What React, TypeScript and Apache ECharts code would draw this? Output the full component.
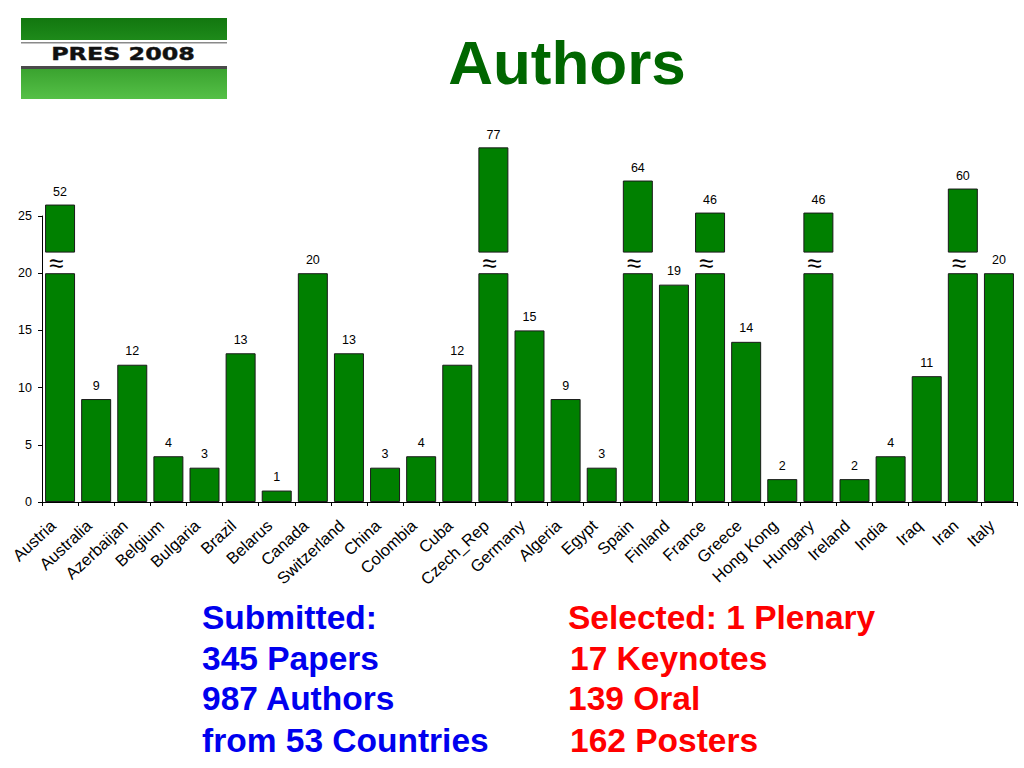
import React, { useEffect, useRef } from "react";
import * as echarts from "echarts";

const categories = [
  "Austria", "Australia", "Azerbaijan", "Belgium", "Bulgaria", "Brazil", "Belarus",
  "Canada", "Switzerland", "China", "Colombia", "Cuba", "Czech_Rep", "Germany",
  "Algeria", "Egypt", "Spain", "Finland", "France", "Greece", "Hong Kong",
  "Hungary", "Ireland", "India", "Iraq", "Iran", "Italy",
];
const authors = [52, 9, 12, 4, 3, 13, 1, 20, 13, 3, 4, 12, 77, 15, 9, 3, 64, 19, 46, 14, 2, 46, 2, 4, 11, 60, 20];
// displayed top (axis units) of the upper box for broken bars
const brokenTops: Record<string, number> = {
  Austria: 26.0,
  Czech_Rep: 31.0,
  Spain: 28.1,
  France: 25.3,
  Hungary: 25.3,
  Iran: 27.4,
};
const breakCap = 20;
const breakGap = 1.8;
const yTicks = [0, 5, 10, 15, 20, 25];
const submittedLines = ["Submitted:", "345 Papers", "987 Authors", "from 53 Countries"];
const selectedLines = ["Selected: 1 Plenary", "17 Keynotes", "139 Oral", "162 Posters"];

const FONT = "'Liberation Sans', Arial, Helvetica, sans-serif";

export default function App() {
  const ref = useRef<HTMLDivElement>(null);
  useEffect(() => {
    if (!ref.current) return;
    const chart = echarts.init(ref.current, null, { renderer: "svg" });
    const isBroken = (i: number) => brokenTops[categories[i]] !== undefined;
    const lower = authors.map((v, i) => (isBroken(i) ? breakCap : v));
    const gap = authors.map((v, i) => (isBroken(i) ? breakGap : "-"));
    const box = authors.map((v, i) =>
      isBroken(i) ? +(brokenTops[categories[i]] - breakCap - breakGap).toFixed(2) : "-"
    );
    const barStyle = { color: "#008000", borderColor: "#1a1a1a", borderWidth: 1 };
    const labelBase = { color: "#000", fontSize: 12.5, fontFamily: FONT };

    const graphic: any[] = [];
    // logo
    graphic.push({
      type: "group",
      left: 21,
      top: 18,
      children: [
        {
          type: "rect",
          shape: { x: 0, y: 0, width: 206, height: 22 },
          style: {
            fill: new echarts.graphic.LinearGradient(0, 0, 0, 1, [
              { offset: 0, color: "#12770f" },
              { offset: 1, color: "#1e8a1a" },
            ]),
          },
        },
        { type: "rect", shape: { x: 0, y: 22, width: 206, height: 27 }, style: { fill: "#ffffff" } },
        { type: "rect", shape: { x: 0, y: 24, width: 206, height: 1.5 }, style: { fill: "#8a8a8a" } },
        { type: "rect", shape: { x: 0, y: 48, width: 206, height: 3 }, style: { fill: "#4a4a4a" } },
        {
          type: "rect",
          shape: { x: 0, y: 51, width: 206, height: 30 },
          style: {
            fill: new echarts.graphic.LinearGradient(0, 0, 0, 1, [
              { offset: 0, color: "#3aa32f" },
              { offset: 1, color: "#55c047" },
            ]),
          },
        },
        {
          type: "text",
          x: 102,
          y: 36.5,
          scaleX: 1.4,
          style: {
            text: "PRES 2008",
            fill: "#111",
            stroke: "#111",
            lineWidth: 0.4,
            font: "bold 17px 'DejaVu Sans', sans-serif",
            align: "center",
            verticalAlign: "middle",
          },
        },
      ],
    });
    graphic.push({
      type: "text",
      x: 567,
      y: 62,
      style: {
        text: "Authors",
        fill: "#006600",
        font: `bold 62px ${FONT}`,
        align: "center",
        verticalAlign: "middle",
      },
    });
    const lineYs = [617, 658, 698, 740];
    submittedLines.forEach((t, i) => {
      graphic.push({
        type: "text",
        x: 202,
        y: lineYs[i],
        style: { text: t, fill: "#0000ee", font: `bold 33.5px ${FONT}`, align: "left", verticalAlign: "middle" },
      });
    });
    const selX = [568, 570, 568, 570];
    selectedLines.forEach((t, i) => {
      graphic.push({
        type: "text",
        x: selX[i],
        y: lineYs[i],
        style: { text: t, fill: "#ff0000", font: `bold 33.5px ${FONT}`, align: "left", verticalAlign: "middle" },
      });
    });

    chart.setOption({
      animation: false,
      backgroundColor: "#ffffff",
      textStyle: { fontFamily: FONT },
      grid: { left: 42, right: 7, top: 216, bottom: 266, containLabel: false },
      xAxis: {
        type: "category",
        data: categories,
        boundaryGap: true,
        axisLine: { show: true, lineStyle: { color: "#000", width: 1 } },
        axisTick: { show: true, length: 4, alignWithLabel: false, lineStyle: { color: "#000" } },
        axisLabel: {
          interval: 0,
          rotate: 43,
          color: "#000",
          fontSize: 16.5,
          fontFamily: FONT,
          margin: 14,
          padding: [0, 10, 0, 0],
        },
        splitLine: { show: false },
      },
      yAxis: {
        type: "value",
        min: yTicks[0],
        max: yTicks[yTicks.length - 1],
        interval: 5,
        axisLine: { show: true, lineStyle: { color: "#000", width: 1 } },
        axisTick: { show: true, length: 4, lineStyle: { color: "#000" } },
        axisLabel: { color: "#000", fontSize: 12.5, fontFamily: FONT, margin: 10 },
        splitLine: { show: false },
      },
      series: [
        {
          type: "bar",
          stack: "a",
          data: lower,
          barWidth: 30,
          clip: false,
          itemStyle: barStyle,
          label: {
            ...labelBase,
            show: true,
            position: "top",
            distance: 7,
            formatter: (p: any) => (isBroken(p.dataIndex) ? "" : String(authors[p.dataIndex])),
          },
        },
        {
          type: "bar",
          stack: "a",
          data: gap,
          barWidth: 30,
          clip: false,
          itemStyle: { color: "transparent", borderWidth: 0 },
          label: {
            show: true,
            position: "inside",
            formatter: "≈",
            color: "#000",
            fontSize: 26,
            fontFamily: FONT,
            offset: [-4, 0],
          },
        },
        {
          type: "bar",
          stack: "a",
          data: box,
          barWidth: 30,
          clip: false,
          itemStyle: barStyle,
          label: {
            ...labelBase,
            show: true,
            position: "top",
            distance: 6,
            formatter: (p: any) => String(authors[p.dataIndex]),
          },
        },
      ],
      graphic,
    });
    return () => chart.dispose();
  }, []);
  return (
    <div
      ref={ref}
      style={{ position: "fixed", left: 0, top: 0, width: 1024, height: 768, background: "#fff" }}
    />
  );
}
